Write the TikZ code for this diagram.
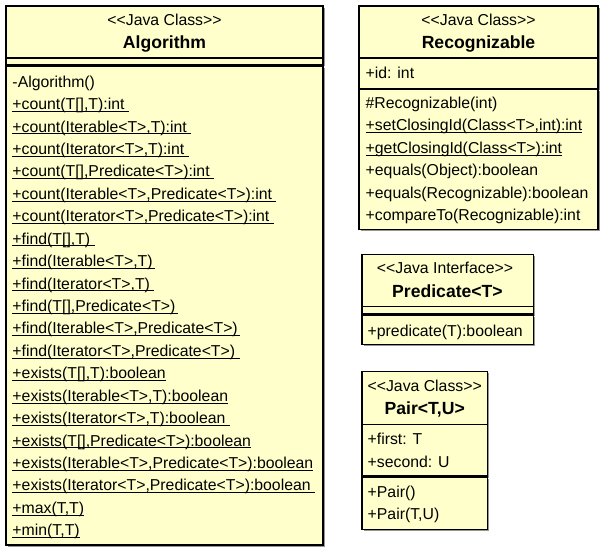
\documentclass[tikz,border=0pt]{standalone}
\usepackage{fontspec}
\setmainfont{Liberation Sans}[Ligatures=TeXOff]
\definecolor{umlfill}{RGB}{255,255,204}
\definecolor{umlshadow}{RGB}{150,150,150}
\newcommand\ulx[1]{\sbox0{#1}\rlap{\rule[-2.2pt]{\wd0}{0.9pt}}\usebox0}
\newcommand\compbox[4]{%
  \fill[umlshadow] (#1+1.6,#2+1.6) rectangle (#3+1.6,#4+1.6);
  \draw[comp] (#1,#2) rectangle (#3,#4);}
\tikzset{
  comp/.style={draw=black, line width=1.15pt, fill=umlfill},
  txt/.style={anchor=base west, inner sep=0pt, font=\fontsize{15.8}{18}\selectfont},
  hdr/.style={anchor=base, inner sep=0pt, font=\fontsize{15.8}{18}\selectfont},
  ttl/.style={anchor=base, inner sep=0pt, font=\bfseries\fontsize{17.6}{20}\selectfont},
}
\begin{document}
\begin{tikzpicture}[x=1pt,y=-1pt]
\useasboundingbox (0,0) rectangle (605,553);
% ---------------- Algorithm ----------------
\compbox{6}{6}{323}{58}
\compbox{6}{58}{323}{64.5}
\compbox{6}{66}{323}{545}
\node[hdr] (algS) at (164.5,25.3) {<<Java Class>>};
\node[ttl] (algT) at (164.5,48.3) {Algorithm};
\node[txt] (a0) at (12.3,87.3) {-Algorithm()};
\node[txt] (a1) at (12.3,109.7) {\ulx{+count(T[],T):int~}};
\node[txt] (a2) at (12.3,132.1) {\ulx{+count(Iterable<T>,T):int~}};
\node[txt] (a3) at (12.3,154.6) {\ulx{+count(Iterator<T>,T):int~}};
\node[txt] (a4) at (12.3,177.0) {\ulx{+count(T[],Predicate<T>):int~}};
\node[txt] (a5) at (12.3,199.4) {\ulx{+count(Iterable<T>,Predicate<T>):int~}};
\node[txt] (a6) at (12.3,221.8) {\ulx{+count(Iterator<T>,Predicate<T>):int~}};
\node[txt] (a7) at (12.3,244.2) {\ulx{+find(T[],T)~}};
\node[txt] (a8) at (12.3,266.7) {\ulx{+find(Iterable<T>,T)\,}};
\node[txt] (a9) at (12.3,289.1) {\ulx{+find(Iterator<T>,T)~}};
\node[txt] (a10) at (12.3,311.5) {\ulx{+find(T[],Predicate<T>)\,}};
\node[txt] (a11) at (12.3,333.9) {\ulx{+find(Iterable<T>,Predicate<T>)\,}};
\node[txt] (a12) at (12.3,356.3) {\ulx{+find(Iterator<T>,Predicate<T>)~}};
\node[txt] (a13) at (12.3,378.8) {\ulx{+exists(T[],T):boolean}};
\node[txt] (a14) at (12.3,401.2) {\ulx{+exists(Iterable<T>,T):boolean}};
\node[txt] (a15) at (12.3,423.6) {\ulx{+exists(Iterator<T>,T):boolean~}};
\node[txt] (a16) at (12.3,446.0) {\ulx{+exists(T[],Predicate<T>):boolean}};
\node[txt] (a17) at (12.3,468.4) {\ulx{+exists(Iterable<T>,Predicate<T>):boolean}};
\node[txt] (a18) at (12.3,490.9) {\ulx{+exists(Iterator<T>,Predicate<T>):boolean~}};
\node[txt] (a19) at (12.3,513.3) {\ulx{+max(T,T)}};
\node[txt] (a20) at (12.3,535.7) {\ulx{+min(T,T)}};
% ---------------- Recognizable ----------------
\compbox{359}{6}{598}{58}
\compbox{359}{58}{598}{88.3}
\compbox{359}{89.5}{598}{229.3}
\node[hdr] (recS) at (478.5,25.3) {<<Java Class>>};
\node[ttl] (recT) at (478.5,48.3) {Recognizable};
\node[txt] (r0) at (365.5,78.3) {+id: int};
\node[txt] (r1) at (365.5,108.3) {\#Recognizable(int)};
\node[txt] (r2) at (365.5,130.8) {\ulx{+setClosingId(Class<T>,int):int}};
\node[txt] (r3) at (365.5,153.3) {\ulx{+getClosingId(Class<T>):int}};
\node[txt] (r4) at (365.5,175.8) {+equals(Object):boolean};
\node[txt] (r5) at (365.5,198.3) {+equals(Recognizable):boolean};
\node[txt] (r6) at (365.5,221.0) {+compareTo(Recognizable):int};
% ---------------- Predicate ----------------
\compbox{362}{254.3}{533.3}{306.7}
\compbox{362}{306.7}{533.3}{314}
\compbox{362}{315.5}{533.3}{344.3}
\node[hdr] (preS) at (445,273.6) {<<Java Interface>>};
\node[ttl] (preT) at (447.5,297.3) {Predicate<T>};
\node[txt] (p0) at (367.5,336.3) {+predicate(T):boolean};
% ---------------- Pair ----------------
\compbox{362}{371.7}{487.3}{424.3}
\compbox{362}{424.3}{487.3}{476}
\compbox{362}{477.3}{487.3}{529.3}
\node[hdr] (paiS) at (424.7,391) {<<Java Class>>};
\node[ttl] (paiT) at (424.7,414.6) {Pair<T,U>};
\node[txt] (q0) at (367.5,444.3) {+first: T};
\node[txt] (q1) at (367.5,467.6) {+second: U};
\node[txt] (q2) at (367.5,497.6) {+Pair()};
\node[txt] (q3) at (367.5,519.6) {+Pair(T,U)};
\end{tikzpicture}
\end{document}
